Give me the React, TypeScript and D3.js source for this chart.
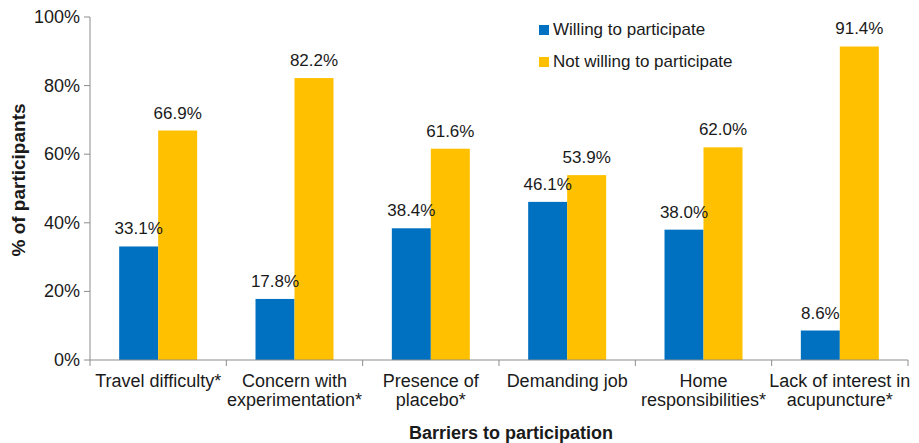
import React from "react";
import * as d3 from "d3";

const categories: string[][] = [
  ["Travel difficulty*"],
  ["Concern with", "experimentation*"],
  ["Presence of", "placebo*"],
  ["Demanding job"],
  ["Home", "responsibilities*"],
  ["Lack of interest in", "acupuncture*"],
];
const seriesNames = ["Willing to participate", "Not willing to participate"];
const willing = [33.1, 17.8, 38.4, 46.1, 38.0, 8.6];
const notWilling = [66.9, 82.2, 61.6, 53.9, 62.0, 91.4];
const yTicks = [0, 20, 40, 60, 80, 100];
const colors = ["#0070C0", "#FFC000"];

const W = 919;
const H = 443;
const margin = { left: 90, right: 11, top: 17, bottom: 83 };
const FONT = "'Liberation Sans', Arial, Helvetica, sans-serif";

export default function App() {
  const x0 = d3
    .scaleBand<number>()
    .domain(categories.map((_, i) => i))
    .range([margin.left, W - margin.right])
    .paddingInner(0)
    .paddingOuter(0);
  const barW = x0.bandwidth() * 0.286;
  const x1 = d3
    .scaleBand<number>()
    .domain([0, 1])
    .range([x0.bandwidth() / 2 - barW, x0.bandwidth() / 2 + barW])
    .padding(0);
  const y = d3.scaleLinear().domain([0, 100]).range([H - margin.bottom, margin.top]);
  const series = [willing, notWilling];
  const axisColor = "#8c8c8c";
  const y0 = y(0);

  return (
    <div style={{ position: "absolute", left: 0, top: 0, width: W, height: H, overflow: "hidden" }}>
      <svg width={W} height={H} style={{ display: "block", fontFamily: FONT }}>
        <rect width={W} height={H} fill="#fff" />
        {/* bars */}
        {categories.map((_, i) =>
          series.map((s, j) => (
            <rect
              key={`b${i}-${j}`}
              x={(x0(i) as number) + (x1(j) as number)}
              y={y(s[i])}
              width={x1.bandwidth()}
              height={y0 - y(s[i])}
              fill={colors[j]}
            />
          ))
        )}
        {/* value labels */}
        {categories.map((_, i) =>
          series.map((s, j) => (
            <text
              key={`l${i}-${j}`}
              x={(x0(i) as number) + (x1(j) as number) + x1.bandwidth() / 2}
              y={y(s[i]) - 12}
              textAnchor="middle"
              fontSize={17}
              fill="#1a1a1a"
            >
              {s[i].toFixed(1)}%
            </text>
          ))
        )}
        {/* y axis */}
        <line x1={margin.left} x2={margin.left} y1={y(100)} y2={y0} stroke={axisColor} strokeWidth={1} />
        {yTicks.map((t) => (
          <g key={`yt${t}`}>
            <line x1={margin.left - 6} x2={margin.left} y1={y(t)} y2={y(t)} stroke={axisColor} />
            <text x={margin.left - 10} y={y(t) + 6} textAnchor="end" fontSize={18} fill="#1a1a1a">
              {t}%
            </text>
          </g>
        ))}
        {/* x axis */}
        <line x1={margin.left} x2={W - margin.right} y1={y0} y2={y0} stroke={axisColor} strokeWidth={1} />
        {d3.range(categories.length + 1).map((i) => {
          const xx = margin.left + i * x0.bandwidth();
          return <line key={`xt${i}`} x1={xx} x2={xx} y1={y0} y2={y0 + 6} stroke={axisColor} />;
        })}
        {categories.map((lines, i) => (
          <text
            key={`c${i}`}
            x={(x0(i) as number) + x0.bandwidth() / 2}
            y={387}
            textAnchor="middle"
            fontSize={18}
            fill="#1a1a1a"
          >
            {lines.map((ln, k) => (
              <tspan key={k} x={(x0(i) as number) + x0.bandwidth() / 2} dy={k === 0 ? 0 : 19}>
                {ln}
              </tspan>
            ))}
          </text>
        ))}
        {/* axis titles */}
        <text x={511} y={439} textAnchor="middle" fontSize={18} fontWeight="bold" fill="#1a1a1a">
          Barriers to participation
        </text>
        <text
          transform={`translate(25,180) rotate(-90)`}
          textAnchor="middle"
          fontSize={19}
          fontWeight="bold"
          fill="#1a1a1a"
        >
          % of participants
        </text>
        {/* legend */}
        {seriesNames.map((n, j) => (
          <g key={`lg${j}`} transform={`translate(539,${25 + j * 32})`}>
            <rect width={10} height={10} fill={colors[j]} />
            <text x={14} y={10} fontSize={17} fill="#1a1a1a">
              {n}
            </text>
          </g>
        ))}
      </svg>
    </div>
  );
}
